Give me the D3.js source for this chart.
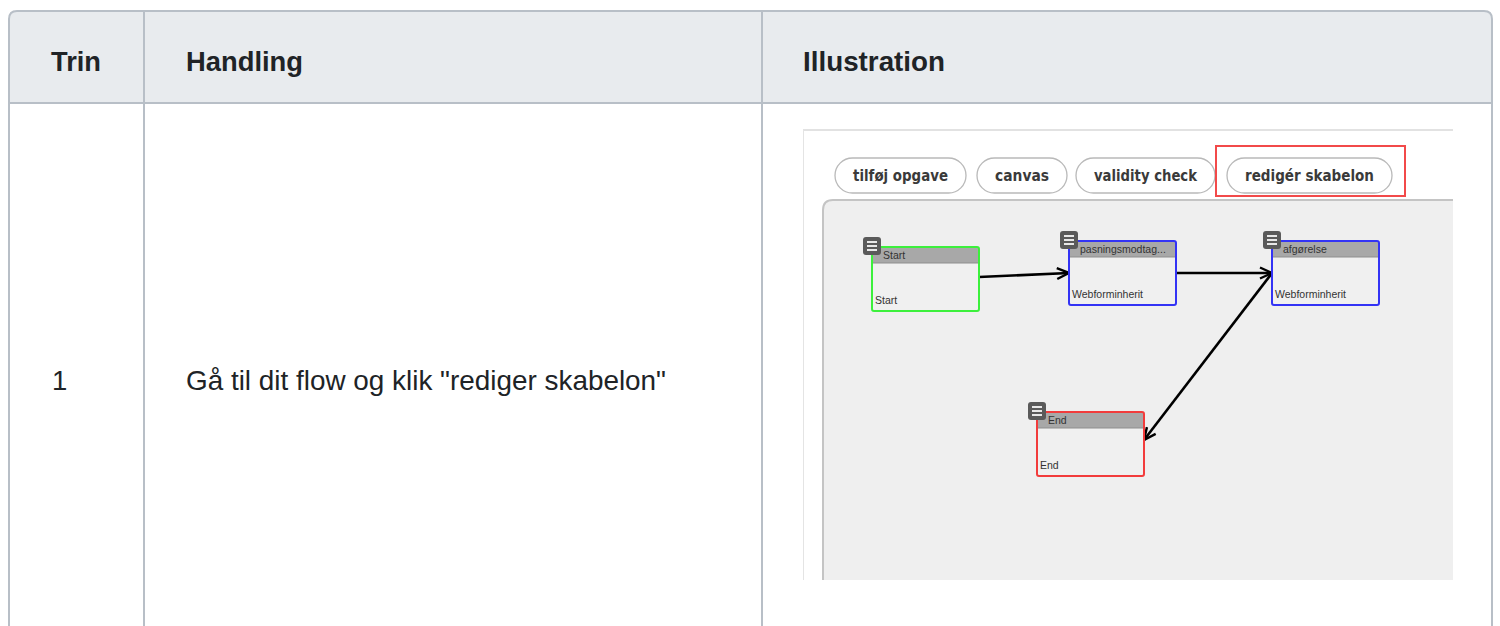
<!DOCTYPE html>
<html>
<head>
<meta charset="utf-8">
<script src="https://cdn.jsdelivr.net/npm/d3@7"></script>
<style>
  html, body { margin: 0; padding: 0; background: #fff; }
  svg { display: block; }
</style>
</head>
<body>
<svg id="chart" width="1500" height="626"></svg>
<script>
// ---- table content ----
const columns = ["Trin", "Handling", "Illustration"];
const steps = ["1"];
const actions = ['Gå til dit flow og klik "rediger skabelon"'];

// ---- illustration content ----
const buttons = ["tilføj opgave", "canvas", "validity check", "redigér skabelon"];
const highlightedButton = "redigér skabelon";
const nodeIds = ["start", "pasn", "afg", "end"];
const nodeTitles = ["Start", "pasningsmodtag...", "afgørelse", "End"];
const nodeTypes = ["Start", "Webforminherit", "Webforminherit", "End"];
const nodeKinds = ["start", "task", "task", "end"];
// node positions in flow-canvas units
const nodeX = [49, 246, 449, 214];
const nodeY = [47, 41, 41, 212];
const edgeFrom = ["start", "pasn", "afg"];
const edgeTo = ["pasn", "afg", "end"];

const svg = d3.select("#chart");

// table geometry
const colX = d3.scaleOrdinal().domain(columns).range([9, 144, 762]);
const tableRight = 1492, tableTop = 11, headerBottom = 103, tableBottom = 640;
const textPad = d3.scaleOrdinal().domain(columns).range([42, 42, 41]);
const hdrWidth = d3.scaleOrdinal().domain(columns).range([50, 117, 142]);

const border = "#b8bfc7";
const r = 8;
svg.append("path")
  .attr("d", `M${colX("Trin")},${headerBottom} L${colX("Trin")},${tableTop + r} Q${colX("Trin")},${tableTop} ${colX("Trin") + r},${tableTop} L${tableRight - r},${tableTop} Q${tableRight},${tableTop} ${tableRight},${tableTop + r} L${tableRight},${headerBottom} Z`)
  .attr("fill", "#e8ebee");
svg.append("path")
  .attr("d", `M${colX("Trin")},${tableBottom} L${colX("Trin")},${tableTop + r} Q${colX("Trin")},${tableTop} ${colX("Trin") + r},${tableTop} L${tableRight - r},${tableTop} Q${tableRight},${tableTop} ${tableRight},${tableTop + r} L${tableRight},${tableBottom}`)
  .attr("fill", "none").attr("stroke", border).attr("stroke-width", 2);
svg.append("line").attr("x1", colX("Trin")).attr("x2", tableRight)
  .attr("y1", headerBottom).attr("y2", headerBottom)
  .attr("stroke", border).attr("stroke-width", 2);
svg.selectAll("line.col").data(columns.slice(1)).join("line")
  .attr("class", "col")
  .attr("x1", d => colX(d)).attr("x2", d => colX(d))
  .attr("y1", tableTop).attr("y2", tableBottom)
  .attr("stroke", border).attr("stroke-width", 2);
svg.selectAll("text.hdr").data(columns).join("text")
  .attr("class", "hdr")
  .attr("x", d => colX(d) + textPad(d))
  .attr("y", 71)
  .attr("font-family", "'Liberation Sans', Arial, sans-serif")
  .attr("font-weight", "bold")
  .attr("font-size", 27.5)
  .attr("fill", "#202326")
  .attr("textLength", d => hdrWidth(d)).attr("lengthAdjust", "spacingAndGlyphs")
  .text(d => d);
svg.selectAll("text.step").data(steps).join("text")
  .attr("class", "step")
  .attr("x", colX("Trin") + textPad("Trin") + 1).attr("y", 390)
  .attr("font-family", "'Liberation Sans', Arial, sans-serif")
  .attr("font-size", 27.5).attr("fill", "#202326").text(d => d);
svg.selectAll("text.action").data(actions).join("text")
  .attr("class", "action")
  .attr("x", colX("Handling") + textPad("Handling")).attr("y", 390)
  .attr("font-family", "'Liberation Sans', Arial, sans-serif")
  .attr("font-size", 27.5).attr("fill", "#202326")
  .attr("textLength", 480).attr("lengthAdjust", "spacingAndGlyphs")
  .text(d => d);

// ---- illustration (screenshot) ----
const img = svg.append("g");
const imgL = 803, imgT = 130, imgR = 1453, imgB = 580;
img.append("rect").attr("x", imgL).attr("y", imgT).attr("width", imgR - imgL).attr("height", imgB - imgT).attr("fill", "#fff");
img.append("line").attr("x1", imgL).attr("x2", imgR).attr("y1", imgT).attr("y2", imgT).attr("stroke", "#e2e2e2").attr("stroke-width", 2);
img.append("line").attr("x1", imgL + 0.5).attr("x2", imgL + 0.5).attr("y1", imgT).attr("y2", imgB).attr("stroke", "#e4e4e4").attr("stroke-width", 1);

// buttons
const btnFont = "'DejaVu Sans', Verdana, sans-serif";
const btnX = [835, 977, 1076, 1227];
const btnW = [131, 90, 139, 165];
const btnScale = d3.scaleOrdinal().domain(buttons).range(btnX);
const btnWidth = d3.scaleOrdinal().domain(buttons).range(btnW);
const btnTop = 158, btnH = 35;
const bg = img.selectAll("g.btn").data(buttons).join("g").attr("class", "btn");
bg.append("rect")
  .attr("x", d => btnScale(d)).attr("y", btnTop)
  .attr("width", d => btnWidth(d)).attr("height", btnH)
  .attr("rx", 17.5).attr("fill", "#fff").attr("stroke", "#b9b9b9").attr("stroke-width", 1.3);
bg.append("text")
  .attr("x", d => btnScale(d) + btnWidth(d) / 2).attr("y", btnTop + 22.5)
  .attr("text-anchor", "middle")
  .attr("font-family", btnFont).attr("font-size", 15).attr("font-weight", "bold")
  .attr("fill", "#3a3a3a")
  .attr("textLength", d => btnWidth(d) - 36).attr("lengthAdjust", "spacingAndGlyphs")
  .text(d => d);
img.append("rect")
  .attr("x", btnScale(highlightedButton) - 11).attr("y", 146)
  .attr("width", btnWidth(highlightedButton) + 24).attr("height", 50)
  .attr("fill", "none").attr("stroke", "#f24a4a").attr("stroke-width", 2);

// flow canvas
const cvL = 823, cvT = 200;
img.append("path")
  .attr("d", `M${imgR},${imgB} L${cvL},${imgB} L${cvL},${cvT + 10} Q${cvL},${cvT} ${cvL + 10},${cvT} L${imgR},${cvT} Z`)
  .attr("fill", "#efefef");
img.append("path")
  .attr("d", `M${cvL},${imgB} L${cvL},${cvT + 10} Q${cvL},${cvT} ${cvL + 10},${cvT} L${imgR},${cvT}`)
  .attr("fill", "none").attr("stroke", "#c4c4c4").attr("stroke-width", 2);

const fx = d3.scaleLinear().domain([0, 630]).range([cvL, cvL + 630]);
const fy = d3.scaleLinear().domain([0, 380]).range([cvT, cvT + 380]);
const nodeW = 107, nodeH = 64;

const nodes = nodeIds.map((id, i) => ({
  id, title: nodeTitles[i], type: nodeTypes[i], kind: nodeKinds[i], x: nodeX[i], y: nodeY[i]
}));
const byId = new Map(nodes.map(n => [n.id, n]));
const kindColor = d3.scaleOrdinal().domain(["start", "task", "end"]).range(["#3cf03c", "#3333f5", "#f23c3c"]);

const defs = svg.append("defs");
defs.append("marker").attr("id", "arr")
  .attr("viewBox", "0 0 14 14").attr("refX", 13).attr("refY", 7)
  .attr("markerWidth", 14).attr("markerHeight", 14).attr("markerUnits", "userSpaceOnUse")
  .attr("orient", "auto")
  .append("path").attr("d", "M1,1.5 L13,7 L1,12.5").attr("fill", "none").attr("stroke", "#000").attr("stroke-width", 2.4);

const edges = edgeFrom.map((f, i) => ({ s: byId.get(f), t: byId.get(edgeTo[i]) }));
function anchor(n, other) {
  if (other.x > n.x + nodeW / 2) return [fx(n.x + nodeW), fy(n.y + nodeH / 2)];
  return [fx(n.x), fy(n.y + nodeH / 2)];
}
img.selectAll("line.edge").data(edges).join("line")
  .attr("class", "edge")
  .attr("x1", d => anchor(d.s, d.t)[0]).attr("y1", d => anchor(d.s, d.t)[1] + (d.s.id === "start" ? -2 : 0))
  .attr("x2", d => anchor(d.t, d.s)[0]).attr("y2", d => anchor(d.t, d.s)[1] + (d.t.id === "end" ? -4 : 0))
  .attr("stroke", "#000").attr("stroke-width", 2.6)
  .attr("marker-end", "url(#arr)");

const ng = img.selectAll("g.node").data(nodes).join("g").attr("class", "node");
ng.append("rect")
  .attr("x", d => fx(d.x)).attr("y", d => fy(d.y))
  .attr("width", nodeW).attr("height", nodeH).attr("rx", 2)
  .attr("fill", "#f0f0f0");
ng.append("rect")
  .attr("x", d => fx(d.x)).attr("y", d => fy(d.y))
  .attr("width", nodeW).attr("height", 16)
  .attr("fill", "#a8a8a8");
ng.append("line")
  .attr("x1", d => fx(d.x)).attr("x2", d => fx(d.x) + nodeW)
  .attr("y1", d => fy(d.y) + 16).attr("y2", d => fy(d.y) + 16)
  .attr("stroke", "#8e8e8e").attr("stroke-width", 1);
ng.append("rect")
  .attr("x", d => fx(d.x)).attr("y", d => fy(d.y))
  .attr("width", nodeW).attr("height", nodeH).attr("rx", 2)
  .attr("fill", "none").attr("stroke", d => kindColor(d.kind)).attr("stroke-width", 2);
ng.append("text")
  .attr("x", d => fx(d.x) + 11).attr("y", d => fy(d.y) + 12)
  .attr("font-family", "'Liberation Sans', Arial, sans-serif").attr("font-size", 10.5)
  .attr("fill", "#333").text(d => d.title);
ng.append("text")
  .attr("x", d => fx(d.x) + 3).attr("y", d => fy(d.y) + nodeH - 7)
  .attr("font-family", "'Liberation Sans', Arial, sans-serif").attr("font-size", 10.5)
  .attr("fill", "#333").text(d => d.type);
const ic = ng.append("g").attr("transform", d => `translate(${fx(d.x) - 9},${fy(d.y) - 10})`);
ic.append("rect").attr("width", 18).attr("height", 18).attr("rx", 3).attr("fill", "#5a5a5a");
ic.selectAll("line").data([5, 9, 13]).join("line")
  .attr("x1", 4).attr("x2", 14).attr("y1", d => d).attr("y2", d => d)
  .attr("stroke", "#e8e8e8").attr("stroke-width", 2);
</script>
</body>
</html>
